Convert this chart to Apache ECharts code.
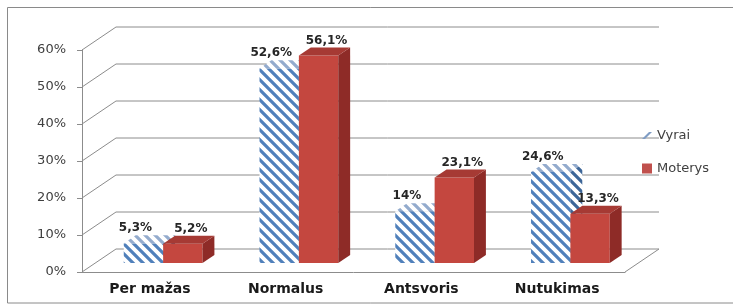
<!DOCTYPE html>
<html>
<head>
<meta charset="utf-8">
<script src="https://cdn.jsdelivr.net/npm/echarts@6/dist/echarts.min.js"></script>
<style>
  html, body { margin: 0; padding: 0; background: #fff; }
  #chart { width: 733px; height: 306px; }
</style>
</head>
<body>
<div id="chart"></div>
<script>
// data
const categories = ['Per mažas', 'Normalus', 'Antsvoris', 'Nutukimas']
const vyrai = [5.3, 52.6, 14, 24.6]
const moterys = [5.2, 56.1, 23.1, 13.3]
const yTicks = [0, 10, 20, 30, 40, 50, 60]

// fake 3d: depth of the box and where the bars sit in it
const DX = 34
const DY = -23
const BAR_FRONT = 0.39
const BAR_BACK = 0.74
const BAR_W = 0.29

const makeStripes = (line) => {
  const s = 10
  const c = document.createElement('canvas')
  c.width = s
  c.height = s
  const ctx = c.getContext('2d')
  ctx.fillStyle = '#ffffff'
  ctx.fillRect(0, 0, s, s)
  ctx.strokeStyle = line
  ctx.lineWidth = 3.2
  ctx.beginPath()
  ctx.moveTo(-2, -2); ctx.lineTo(s + 2, s + 2)
  ctx.moveTo(-s - 2, -2); ctx.lineTo(2, s + 2)
  ctx.moveTo(s - 2, -2); ctx.lineTo(2 * s + 2, s + 2)
  ctx.stroke()
  return { image: c, repeat: 'repeat' }
}

const stripeFront = makeStripes('#5080bb')
const stripeTop = makeStripes('#93abcd')
const stripeSide = makeStripes('#3d6698')

const fmt = (v) => String(v).replace('.', ',') + '%'

const poly = (pts, fill) => ({ type: 'polygon', shape: { points: pts }, style: { fill: fill } })

const barRenderer = (faces, shift, labelShift) => (params, api) => {
  const idx = api.value(0)
  const val = api.value(1)
  const top = api.coord([idx, val])
  const base = api.coord([idx, 0])
  const w = api.size([1, 0])[0] * BAR_W
  const fx = DX * BAR_FRONT, fy = DY * BAR_FRONT
  const d = DX * (BAR_BACK - BAR_FRONT), dd = DY * (BAR_BACK - BAR_FRONT)
  const x0 = top[0] + fx + shift * w
  const x1 = x0 + w
  const yt = top[1] + fy
  const yb = base[1] + fy
  return {
    type: 'group',
    children: [
      poly([[x0, yt], [x1, yt], [x1, yb], [x0, yb]], faces.front),
      poly([[x1, yt], [x1 + d, yt + dd], [x1 + d, yb + dd], [x1, yb]], faces.side),
      poly([[x0, yt], [x0 + d, yt + dd], [x1 + d, yt + dd], [x1, yt]], faces.top),
      {
        type: 'text',
        style: {
          text: fmt(val),
          x: x0 + w / 2 + labelShift,
          y: yt + dd - 1,
          align: 'center',
          verticalAlign: 'bottom',
          fill: '#262626',
          font: 'bold 12px "DejaVu Sans"',
        },
      },
    ],
  }
}

const wallRenderer = (params, api) => {
  const cs = params.coordSys
  const y = api.coord([0, api.value(1)])[1]
  const left = cs.x
  const right = cs.x + cs.width
  const line = (x1, y1, x2, y2) => ({
    type: 'line',
    shape: { x1, y1, x2, y2 },
    style: { stroke: '#8c8c8c', lineWidth: 1 },
  })
  const children = [
    line(left, y, left + DX, y + DY),
    line(left + DX, y + DY, right + DX, y + DY),
  ]
  if (api.value(1) === 0) {
    children.push(line(right, y, right + DX, y + DY))
  }
  return { type: 'group', children }
}

const chart = echarts.init(document.getElementById('chart'))

const option = {
  backgroundColor: '#ffffff',
  animation: false,
  textStyle: { fontFamily: 'DejaVu Sans' },
  graphic: [
    {
      type: 'rect',
      shape: { x: 7.5, y: 7.5, width: 740, height: 295.5 },
      style: { fill: 'none', stroke: '#8a8a8a', lineWidth: 1 },
      z: 0,
    },
  ],
  grid: {
    left: 82,
    right: 108,
    top: 50,
    bottom: 34,
  },
  legend: {
    orient: 'vertical',
    left: 637,
    top: 124,
    itemWidth: 10,
    itemHeight: 10,
    itemGap: 20,
    textStyle: { color: '#404040', fontSize: 13, fontFamily: 'DejaVu Sans' },
    data: [
      {
        name: 'Vyrai',
        icon: 'path://M0,10 L7,3 L10,3 L3,10 Z',
        itemStyle: { color: '#7f9cc4' },
      },
      {
        name: 'Moterys',
        icon: 'rect',
        itemStyle: { color: '#c0504d' },
      },
    ],
  },
  xAxis: {
    type: 'category',
    data: categories,
    axisLine: { lineStyle: { color: '#8c8c8c' } },
    axisTick: { length: 4, lineStyle: { color: '#8c8c8c' } },
    axisLabel: {
      color: '#1a1a1a',
      fontSize: 14,
      fontWeight: 'bold',
      margin: 10,
    },
  },
  yAxis: {
    type: 'value',
    min: 0,
    max: 60,
    interval: 10,
    axisLine: { show: true, lineStyle: { color: '#8c8c8c' } },
    axisTick: { show: true, length: 5, lineStyle: { color: '#8c8c8c' } },
    axisLabel: {
      formatter: '{value}%',
      color: '#404040',
      fontSize: 13,
      margin: 16,
    },
    splitLine: { show: false },
  },
  series: [
    {
      name: 'walls',
      type: 'custom',
      silent: true,
      z: 1,
      data: yTicks.map((v) => [0, v]),
      renderItem: wallRenderer,
    },
    {
      name: 'Vyrai',
      type: 'custom',
      z: 2,
      itemStyle: { color: '#7f9cc4' },
      data: vyrai.map((v, i) => [i, v]),
      renderItem: barRenderer(
        { front: stripeFront, side: stripeSide, top: stripeTop },
        -1,
        -8
      ),
    },
    {
      name: 'Moterys',
      type: 'custom',
      z: 3,
      itemStyle: { color: '#c0504d' },
      data: moterys.map((v, i) => [i, v]),
      renderItem: barRenderer(
        { front: '#c4473f', side: '#8e2b27', top: '#a63a34' },
        0,
        8
      ),
    },
  ],
}

chart.setOption(option)

window.addEventListener('resize', () => {
  chart.resize()
})
</script>
</body>
</html>
